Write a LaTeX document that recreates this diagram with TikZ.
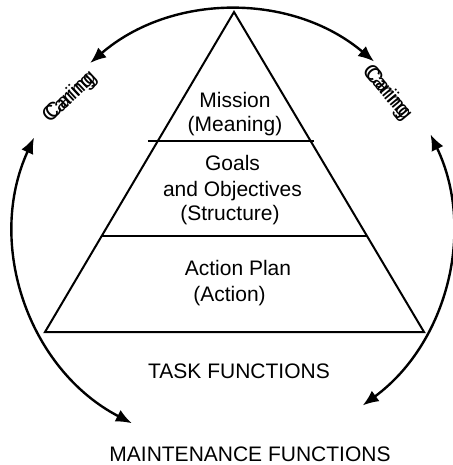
\documentclass[tikz,border=0pt]{standalone}
\usepackage{fontspec}
\setmainfont{Liberation Sans}
\usetikzlibrary{arrows.meta}
\usetikzlibrary{calc}

\tikzset{
  lbl/.style={font=\fontsize{10.5}{12}\selectfont, inner sep=0pt, align=center},
  loop arc/.style={line width=1.2pt, {Latex[length=8pt,width=6.5pt]}-{Latex[length=8pt,width=6.5pt]}},
  pyr/.style={line width=1pt}
}
% a word printed twice, slightly shifted
\newcommand{\twiceword}[1]{\rlap{#1}\hspace{2pt}#1}

\begin{document}
\begin{tikzpicture}[x=0.5pt,y=-0.5pt]
\useasboundingbox (0,0) rectangle (452,465);
%\draw[help lines] (0,0) grid (452,465);
\coordinate (c) at (233,229);
\coordinate (apex) at (234,12);
\coordinate (bl) at (45,332);
\coordinate (br) at (424,332);
% pyramid and its two layers
\draw[pyr, line join=miter] (apex) -- (bl) -- (br) -- cycle;
\coordinate (m1l) at ($(apex)!0.403!(bl)$);
\coordinate (m1r) at ($(apex)!0.403!(br)$);
\coordinate (m2l) at ($(apex)!0.7!(bl)$);
\coordinate (m2r) at ($(apex)!0.7!(br)$);
\draw[pyr] ([xshift=-5pt]m1l) -- ([xshift=1.5pt]m1r);
\draw[pyr] (m2l) -- (m2r);
% texts
\node[lbl, anchor=base] (mission) at (235,107) {Mission};
\node[lbl, anchor=base] (meaning) at (235,132) {(Meaning)};
\node[lbl, anchor=base] (goals) at (232.5,170) {Goals};
\node[lbl, anchor=base] (objectives) at (232.5,196) {and Objectives};
\node[lbl, anchor=base] (structure) at (230,220) {(Structure)};
\node[lbl, anchor=base] (plan) at (238,275) {Action Plan};
\node[lbl, anchor=base] (action) at (229.5,301) {(Action)};
\node[lbl, anchor=base] (task) at (239,378) {TASK FUNCTIONS};
\node[lbl, anchor=base] (maint) at (250,461) {MAINTENANCE FUNCTIONS};
% the caring labels on both sides
\node[lbl, rotate=43] (caringl) at (70,97) {\twiceword{Caring}};
\node[lbl, rotate=-50] (caringr) at (387,93) {\twiceword{Caring}};
% circle of arrows
\draw[loop arc] ($(c)+(130.7:109.5pt)$) arc[start angle=130.7, end angle=49.9, radius=109.5pt];
\draw[loop arc] ($(c)+(155.3:109.5pt)$) arc[start angle=155.3, end angle=242.5, radius=109.5pt];
\draw[loop arc] ($(c)+(25.6:109.5pt)$) arc[start angle=25.6, end angle=-53.7, radius=109.5pt];
\end{tikzpicture}
\end{document}
